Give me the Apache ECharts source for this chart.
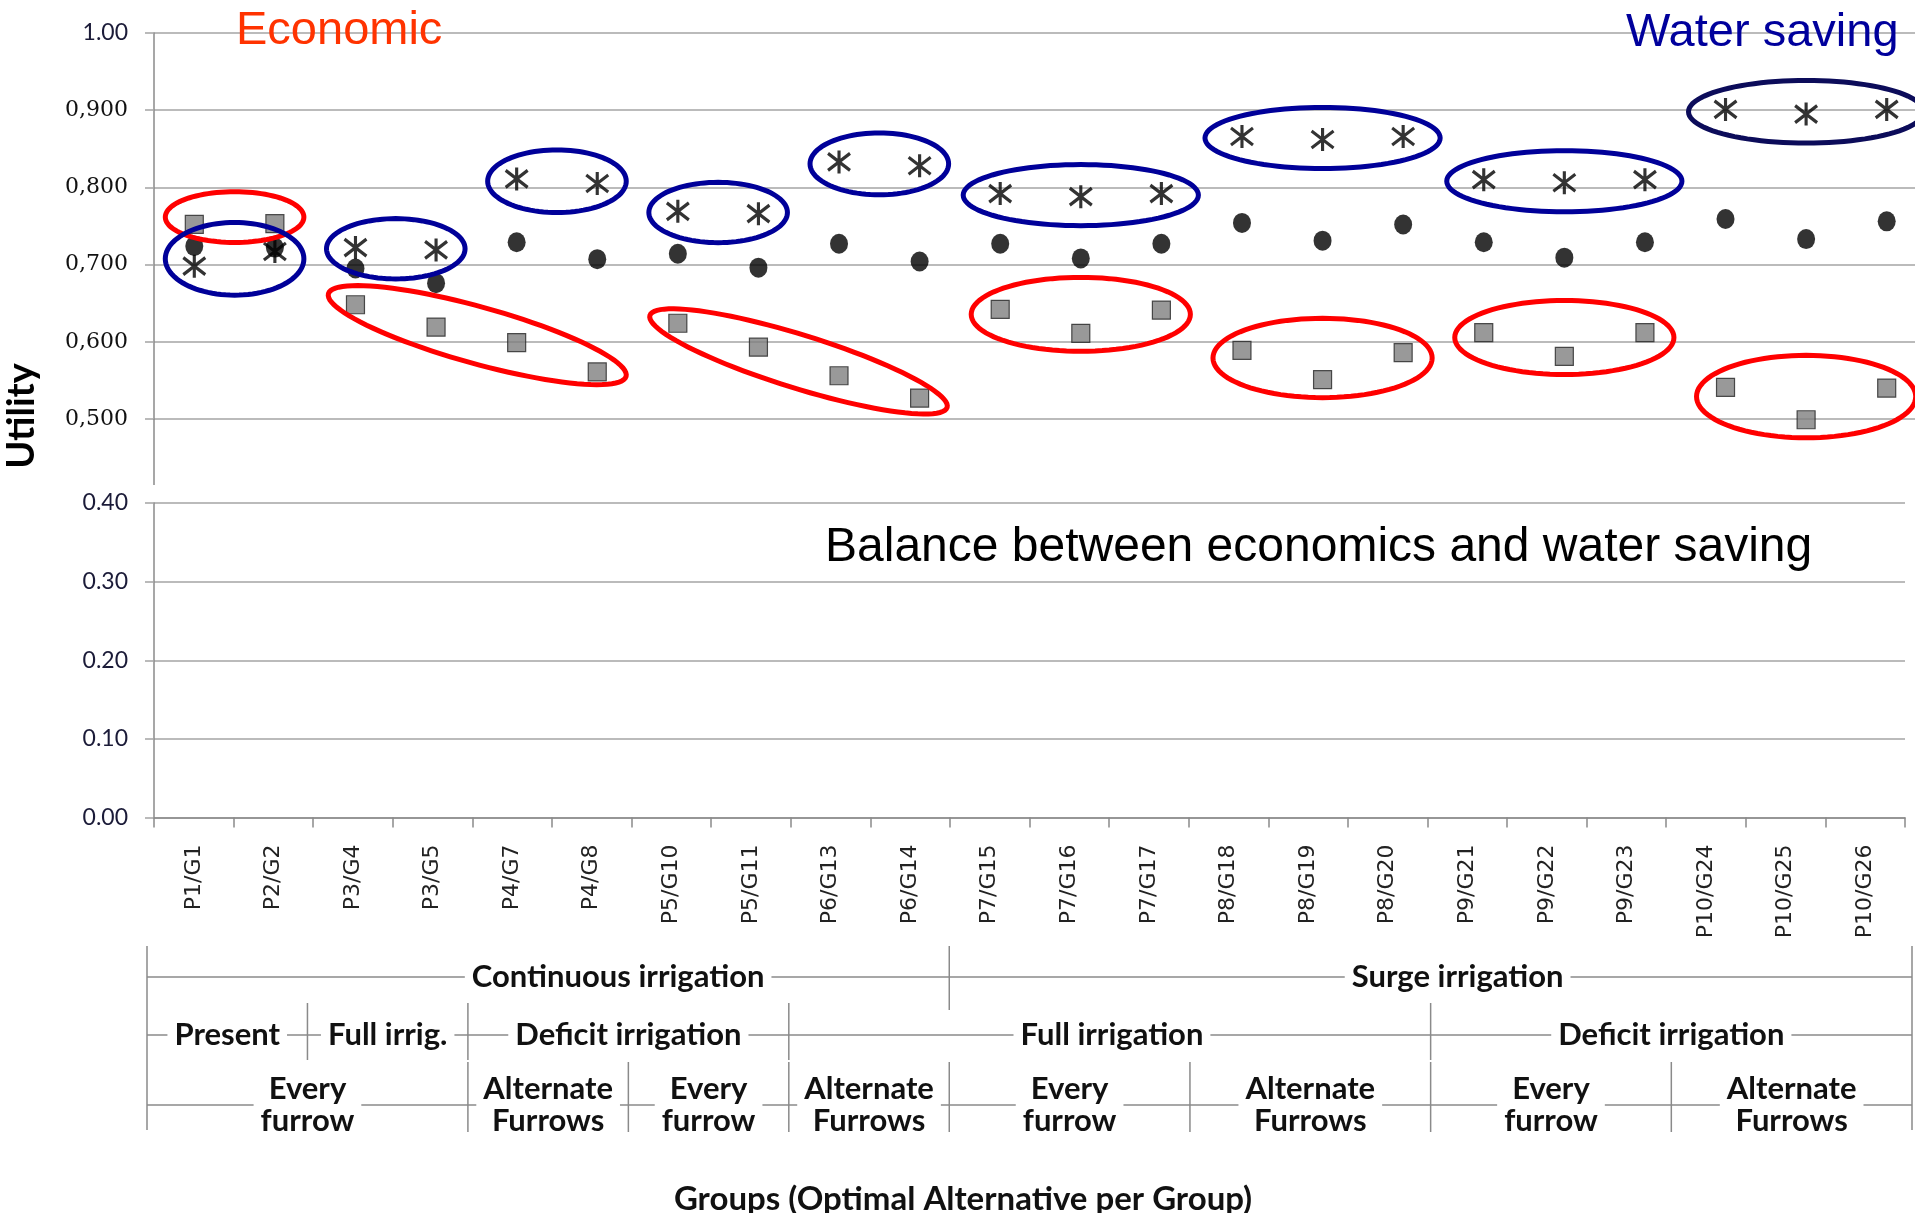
<!DOCTYPE html>
<html>
<head>
<meta charset="utf-8">
<script src="https://cdn.jsdelivr.net/npm/echarts@6.0.0/dist/echarts.min.js"></script>
<style>
  html, body { margin: 0; padding: 0; background: #fff; }
  #chart { width: 1915px; height: 1213px; }
</style>
</head>
<body>
<div id="chart"></div>
<script>
// Optimal alternative of each group (P = plot, G = group)
const categories = ['P1/G1', 'P2/G2', 'P3/G4', 'P3/G5', 'P4/G7', 'P4/G8', 'P5/G10', 'P5/G11',
  'P6/G13', 'P6/G14', 'P7/G15', 'P7/G16', 'P7/G17', 'P8/G18', 'P8/G19', 'P8/G20',
  'P9/G21', 'P9/G22', 'P9/G23', 'P10/G24', 'P10/G25', 'P10/G26'];

// Utility under the three weighting scenarios
const economicUtility = [0.752, 0.753, 0.648, 0.619, 0.599, 0.561, 0.624, 0.593, 0.556, 0.527,
  0.642, 0.611, 0.641, 0.589, 0.551, 0.586, 0.612, 0.581, 0.612, 0.541, 0.499, 0.540];
const balanceUtility = [0.724, 0.722, 0.695, 0.676, 0.729, 0.707, 0.714, 0.696, 0.727, 0.704,
  0.727, 0.708, 0.727, 0.754, 0.731, 0.752, 0.729, 0.709, 0.729, 0.759, 0.733, 0.756];
const waterUtility = [0.698, 0.717, 0.722, 0.719, 0.811, 0.805, 0.769, 0.766, 0.833, 0.828,
  0.792, 0.788, 0.792, 0.866, 0.862, 0.866, 0.810, 0.806, 0.810, 0.901, 0.895, 0.901];

// Tick labels of the upper (zoomed) and lower panels
const upperTickLabels = ['0,500', '0,600', '0,700', '0,800', '0,900', '1.00'];
const lowerTickLabels = ['0.00', '0.10', '0.20', '0.30', '0.40'];

// Groups circled as best for each objective
const economicClusters = [
  { from: 0, to: 1 }, { from: 2, to: 5, tilt: true }, { from: 6, to: 9, tilt: true },
  { from: 10, to: 12 }, { from: 13, to: 15 }, { from: 16, to: 18 }, { from: 19, to: 21 }];
const waterClusters = [
  { from: 0, to: 1 }, { from: 2, to: 3 }, { from: 4, to: 5 }, { from: 6, to: 7 }, { from: 8, to: 9 },
  { from: 10, to: 12 }, { from: 13, to: 15 }, { from: 16, to: 18 }, { from: 19, to: 21 }];

// Treatment hierarchy under the category axis (category index ranges)
const irrigationMethods = [
  { name: 'Continuous irrigation', from: 0, to: 10 },
  { name: 'Surge irrigation', from: 10, to: 22 }];
const waterRegimes = [
  { name: 'Present', from: 0, to: 2 },
  { name: 'Full irrig.', from: 2, to: 4 },
  { name: 'Deficit irrigation', from: 4, to: 8 },
  { name: 'Full irrigation', from: 10, to: 16 },
  { name: 'Deficit irrigation', from: 16, to: 22 }];
const furrowLayouts = [
  { name: 'Every\nfurrow', from: 0, to: 4 },
  { name: 'Alternate\nFurrows', from: 4, to: 6 },
  { name: 'Every\nfurrow', from: 6, to: 8 },
  { name: 'Alternate\nFurrows', from: 8, to: 10 },
  { name: 'Every\nfurrow', from: 10, to: 13 },
  { name: 'Alternate\nFurrows', from: 13, to: 16 },
  { name: 'Every\nfurrow', from: 16, to: 19 },
  { name: 'Alternate\nFurrows', from: 19, to: 22 }];

const AXIS = '#8a8a8a';
const GRID = '#a4a4a4';
const RED = '#ff0000';
const NAVY = '#000099';
const NAVY_DARK = '#0c0c5a';
const LABEL_FONT = 'Lato';
const ASTERISK = 'path://M11,0 L11,23 M1,3 L21,20 M21,3 L1,20';

const chart = echarts.init(document.getElementById('chart'), null, { renderer: 'canvas' });

function pairs(values) {
  return categories.map((c, i) => [c, values[i]]);
}

const valueAxisBase = {
  type: 'value',
  interval: 0.1,
  axisLine: { show: true, lineStyle: { color: AXIS, width: 1.5 } },
  axisTick: { show: true, length: 9, lineStyle: { color: GRID, width: 1.5 } },
  splitLine: { show: true, lineStyle: { color: GRID, width: 1.5 } }
};

const option = {
  animation: false,
  backgroundColor: '#ffffff',
  grid: [
    { left: 154, top: 33, width: 1773, height: 386, outerBoundsMode: 'none' },
    { left: 154, top: 503, width: 1751, height: 314.5, outerBoundsMode: 'none' }
  ],
  xAxis: [
    { gridIndex: 0, type: 'category', data: categories, boundaryGap: true, show: false },
    {
      gridIndex: 1, type: 'category', data: categories, boundaryGap: true,
      axisLine: { show: true, lineStyle: { color: AXIS, width: 1.5 } },
      axisTick: { show: true, length: 10, lineStyle: { color: AXIS, width: 1.5 } },
      splitLine: { show: false },
      axisLabel: {
        interval: 0, rotate: 90, margin: 27,
        fontFamily: 'DejaVu Sans', fontSize: 22, color: '#222222'
      }
    }
  ],
  yAxis: [
    Object.assign({}, valueAxisBase, {
      gridIndex: 0, min: 0.5, max: 1.0,
      axisLabel: {
        margin: 26,
        formatter: v => {
          const i = Math.round((v - 0.5) * 10);
          return i === upperTickLabels.length - 1
            ? '{top|' + upperTickLabels[i] + '}'
            : '{dec|' + upperTickLabels[i] + '}';
        },
        rich: {
          top: { fontFamily: LABEL_FONT, fontSize: 23, color: '#1b1b38' },
          dec: { fontFamily: 'DejaVu Serif', fontSize: 22, color: '#111111' }
        }
      }
    }),
    Object.assign({}, valueAxisBase, {
      gridIndex: 1, min: 0, max: 0.4,
      axisLabel: {
        margin: 26, fontFamily: LABEL_FONT, fontSize: 23, color: '#1b1b38',
        formatter: v => lowerTickLabels[Math.round(v * 10)]
      }
    })
  ],
  series: [
    {
      name: 'Balance', type: 'scatter', xAxisIndex: 0, yAxisIndex: 0, z: 2, clip: false,
      data: pairs(balanceUtility), symbol: 'circle', symbolSize: [18, 20],
      itemStyle: { color: '#000000' }
    },
    {
      name: 'Economic', type: 'scatter', xAxisIndex: 0, yAxisIndex: 0, z: 3, clip: false,
      data: pairs(economicUtility), symbol: 'rect', symbolSize: 18,
      itemStyle: { color: '#7f7f7f', borderColor: '#262626', borderWidth: 1.2 }
    },
    {
      name: 'Water saving', type: 'scatter', xAxisIndex: 0, yAxisIndex: 0, z: 4, clip: false,
      data: pairs(waterUtility), symbol: ASTERISK, symbolSize: [22, 23],
      itemStyle: { color: 'none', borderColor: '#000000', borderWidth: 3.2 }
    }
  ]
};

chart.setOption(option);

// ---- overlays: objective rings, panel texts, treatment hierarchy ----
function topPx(i, v) {
  return chart.convertToPixel({ xAxisIndex: 0, yAxisIndex: 0 }, [i, v]);
}

function ellipsePoints(cx, cy, a, b, ang) {
  const pts = [];
  const c = Math.cos(ang), s = Math.sin(ang);
  for (let t = 0; t < 96; t++) {
    const th = t / 96 * Math.PI * 2;
    const x = a * Math.cos(th), y = b * Math.sin(th);
    pts.push([cx + x * c - y * s, cy + x * s + y * c]);
  }
  return pts;
}

function ring(values, cluster, color, padA, padB, dy) {
  const pts = [];
  for (let i = cluster.from; i <= cluster.to; i++) pts.push(topPx(i, values[i]));
  const p0 = pts[0], p1 = pts[pts.length - 1];
  const ang = cluster.tilt ? Math.atan2(p1[1] - p0[1], p1[0] - p0[0]) : 0;
  const c = Math.cos(ang), s = Math.sin(ang);
  let umin = Infinity, umax = -Infinity, vmin = Infinity, vmax = -Infinity;
  pts.forEach(p => {
    const u = p[0] * c + p[1] * s, v = -p[0] * s + p[1] * c;
    umin = Math.min(umin, u); umax = Math.max(umax, u);
    vmin = Math.min(vmin, v); vmax = Math.max(vmax, v);
  });
  const uc = (umin + umax) / 2, vc = (vmin + vmax) / 2 + dy;
  const cx = uc * c - vc * s, cy = uc * s + vc * c;
  return {
    type: 'polygon', z: 50, silent: true,
    shape: { points: ellipsePoints(cx, cy, (umax - umin) / 2 + padA, (vmax - vmin) / 2 + padB, ang) },
    style: { fill: 'none', stroke: color, lineWidth: 5 }
  };
}

const graphics = [];

economicClusters.forEach(cl => {
  graphics.push(ring(economicUtility, cl, RED, 29, 25, cl.tilt ? 0 : -7));
});
waterClusters.forEach((cl, k) => {
  const n = cl.to - cl.from + 1;
  const color = k === waterClusters.length - 1 ? NAVY_DARK : NAVY;
  graphics.push(ring(waterUtility, cl, color, 21 + 8 * (n - 1), 29, 0));
});

function label(text, x, y, font, fill, extra) {
  return Object.assign({
    type: 'text', z: 60, silent: true, x: x, y: y,
    style: Object.assign({
      text: text, font: font, fill: fill,
      align: 'center', verticalAlign: 'middle', textAlign: 'center', textVerticalAlign: 'middle'
    }, extra || {})
  });
}

// Objective captions
graphics.push(label('Economic', 236, 31, "47px 'Liberation Sans'", '#ff3300', { align: 'left', textAlign: 'left' }));
graphics.push(label('Water saving', 1626, 33, "47px 'Liberation Sans'", '#00009c', { align: 'left', textAlign: 'left' }));
graphics.push(label('Balance between economics and water saving', 825, 548, "48px 'Liberation Sans'", '#000000', { align: 'left', textAlign: 'left' }));

// Axis titles
const utility = label('Utility', 0, 0, "bold 38px " + LABEL_FONT, '#000000');
utility.x = 22; utility.y = 416; utility.rotation = Math.PI / 2;
graphics.push(utility);
graphics.push(label('Groups (Optimal Alternative per Group)', 963, 1199, "bold 33px " + LABEL_FONT, '#111111'));

// Upper panel axis line continues below its last tick
const base = topPx(0, 0.5);
graphics.push({
  type: 'line', z: 5, silent: true,
  shape: { x1: 154, y1: base[1], x2: 154, y2: base[1] + 66 },
  style: { stroke: AXIS, lineWidth: 1.5 }
});

// Treatment hierarchy
const c0 = chart.convertToPixel({ xAxisIndex: 1 }, 0);
const c1 = chart.convertToPixel({ xAxisIndex: 1 }, 1);
const cN = chart.convertToPixel({ xAxisIndex: 1 }, categories.length - 1);
const band = c1 - c0;
const lo = c0 - band / 2 - 7, hi = cN + band / 2 + 7;
const bx = k => lo + k * (hi - lo) / categories.length;
const textNudge = { 'Continuous irrigation': 70, 'Surge irrigation': 27, 'Full irrigation': -78 };
const levels = [
  { items: irrigationMethods, y: 977, sep: [946, 1010] },
  { items: waterRegimes, y: 1035, sep: [1003, 1060] },
  { items: furrowLayouts, y: 1105, sep: [1062, 1132] }
];
const HIER_FONT = "bold 31px " + LABEL_FONT;

function vline(x, y1, y2) {
  return {
    type: 'line', z: 40, silent: true,
    shape: { x1: x, y1: y1, x2: x, y2: y2 },
    style: { stroke: AXIS, lineWidth: 1.5 }
  };
}

graphics.push(vline(lo, 946, 1130));
graphics.push(vline(hi, 946, 1130));
levels.forEach(level => {
  graphics.push({
    type: 'line', z: 40, silent: true,
    shape: { x1: lo, y1: level.y, x2: hi, y2: level.y },
    style: { stroke: AXIS, lineWidth: 1.5 }
  });
  level.items.forEach(item => {
    if (item.to < categories.length) graphics.push(vline(bx(item.to), level.sep[0], level.sep[1]));
    const cx = (bx(item.from) + bx(item.to)) / 2 + (textNudge[item.name] || 0);
    graphics.push(label(item.name, cx, level.y, HIER_FONT, '#111111', {
      backgroundColor: '#ffffff', padding: [0, 7], lineHeight: 32
    }));
  });
});

chart.setOption({ graphic: { elements: graphics } });
</script>
</body>
</html>
